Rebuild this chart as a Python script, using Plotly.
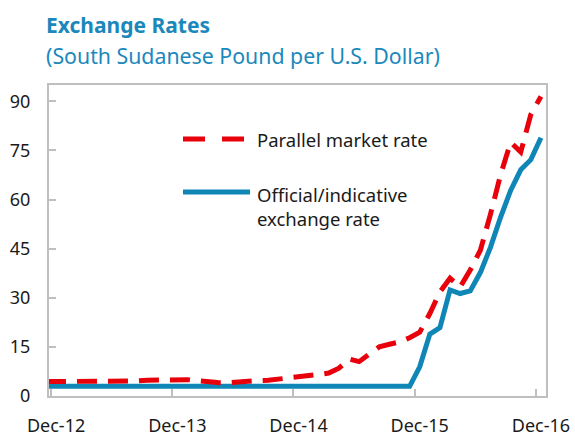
import plotly.graph_objects as go

# ---- data ----
mnames = ["Jan", "Feb", "Mar", "Apr", "May", "Jun", "Jul", "Aug", "Sep", "Oct", "Nov", "Dec"]
months = ["Nov-12", "Dec-12"] + [f"{m}-{y}" for y in range(13, 17) for m in mnames]

official = [2.96] * 37 + [8.9, 18.9, 20.9, 32.4, 31.3, 32.1, 37.7, 45.4, 54.6, 62.8, 69.1, 72.2, 78.9]

parallel = [4.4, 4.4, 4.4, 4.4, 4.4, 4.4, 4.4, 4.5, 4.5, 4.6, 4.8, 4.9, 4.9, 4.9,
            5.0, 4.7, 4.3, 4.1, 4.0, 4.3, 4.6, 4.7, 4.8, 5.1, 5.6, 6.0, 6.3, 6.6,
            7.0, 8.5, 11.3, 10.5, 12.8, 15.0, 15.8, 16.5, 17.8, 19.5, 25.2, 31.8,
            36.0, 33.3, 38.5, 44.5, 55.5, 67.5, 77.5, 74.5, 86.0, 91.5]

tick_labels = ["Dec-12", "Dec-13", "Dec-14", "Dec-15", "Dec-16"]
y_ticks = [0, 15, 30, 45, 60, 75, 90]

RED = "#e8000b"
BLUE = "#0f86b6"
TEAL = "#1b88bc"
GRAY = "#bfbfbf"
FONT = "Noto Sans"
TXT = "#1a1a1a"

fig = go.Figure()
fig.add_trace(go.Scatter(x=months, y=official, mode="lines",
                         line=dict(color=BLUE, width=5), name="Official/indicative exchange rate",
                         showlegend=False))
fig.add_trace(go.Scatter(x=months, y=parallel, mode="lines",
                         line=dict(color=RED, width=5, dash="20px,11px"), name="Parallel market rate",
                         showlegend=False))

W, H = 575, 436
L, R, T, B = 49, 29, 85, 40
pw, ph = W - L - R, H - T - B


def px(x):
    return (x - L) / pw


def py(y):
    return (H - B - y) / ph


# manual legend
fig.add_shape(type="line", xref="paper", yref="paper", x0=px(183), x1=px(244), y0=py(139), y1=py(139),
              line=dict(color=RED, width=5, dash="22px,17px"))
fig.add_shape(type="line", xref="paper", yref="paper", x0=px(183), x1=px(250), y0=py(192), y1=py(192),
              line=dict(color=BLUE, width=5))
fig.add_annotation(text="Parallel market rate", xref="paper", yref="paper", x=px(255), y=py(139),
                   xanchor="left", yanchor="middle", showarrow=False,
                   font=dict(family=FONT, size=18.5, color=TXT))
fig.add_annotation(text="Official/indicative<br>exchange rate", xref="paper", yref="paper",
                   x=px(255), y=py(206), xanchor="left", yanchor="middle", align="left",
                   showarrow=False, font=dict(family=FONT, size=18.5, color=TXT))

# titles
fig.add_annotation(text="<b>Exchange Rates</b>", xref="paper", yref="paper", x=px(44), y=py(25),
                   xanchor="left", yanchor="middle", showarrow=False,
                   font=dict(family=FONT, size=21, color=TEAL))
fig.add_annotation(text="(South Sudanese Pound per U.S. Dollar)", xref="paper", yref="paper",
                   x=px(44), y=py(55), xanchor="left", yanchor="middle", showarrow=False,
                   font=dict(family=FONT, size=21.3, color=TEAL))

fig.update_layout(
    width=W, height=H,
    margin=dict(l=L, r=R, t=T, b=B, autoexpand=False),
    paper_bgcolor="white", plot_bgcolor="white",
    font=dict(family=FONT, size=18, color=TXT),
    showlegend=False,
)
fig.update_xaxes(type="category", categoryorder="array", categoryarray=months,
                 tickmode="array", tickvals=tick_labels, ticktext=tick_labels, tickangle=0,
                 tickson="boundaries", ticks="inside", ticklen=7, tickcolor=GRAY, tickwidth=1.5,
                 showline=True, linecolor=GRAY, linewidth=2, mirror=True, automargin=False,
                 showgrid=False, zeroline=False, range=[0.3, 49.5], ticklabelstandoff=12,
                 tickfont=dict(family=FONT, size=18, color=TXT))
fig.update_yaxes(range=[0, 95], tickmode="array", tickvals=y_ticks,
                 ticks="inside", ticklen=7, tickcolor=GRAY, tickwidth=1.5,
                 showline=True, linecolor=GRAY, linewidth=2, mirror=True, automargin=False,
                 showgrid=False, zeroline=False, ticklabelstandoff=13,
                 tickfont=dict(family=FONT, size=18, color=TXT))

fig.write_html("out.html", config={"displayModeBar": False},
               post_script="document.body.style.margin='0';document.body.style.overflow='hidden';")
